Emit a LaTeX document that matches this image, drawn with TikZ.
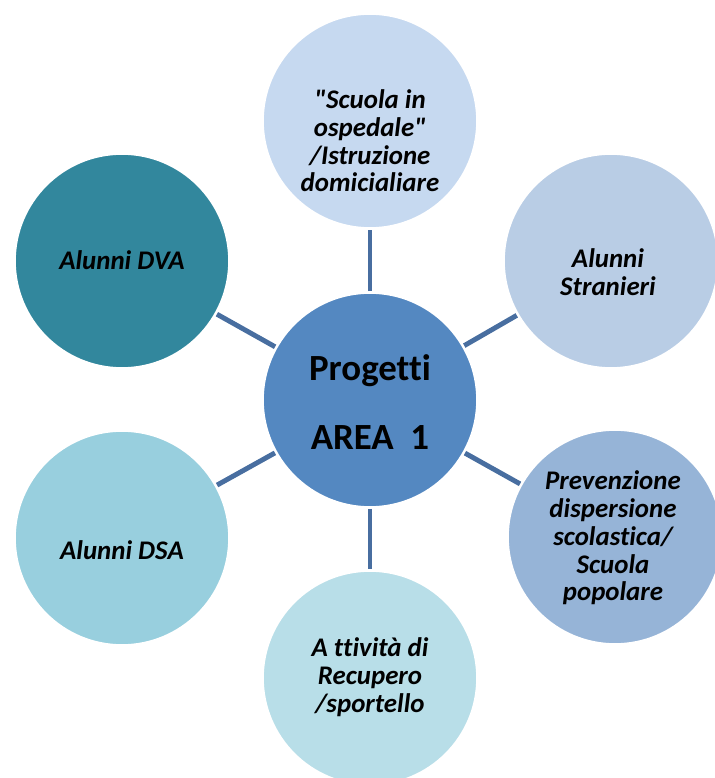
\documentclass[tikz,border=0pt]{standalone}
\usepackage{fontspec}
\newfontfamily\carlito{Carlito}[Ligatures=NoCommon]
\definecolor{centroblue}{RGB}{84,136,193}
\definecolor{scuolablue}{RGB}{198,217,240}
\definecolor{stranieriblue}{RGB}{185,205,229}
\definecolor{prevenzioneblue}{RGB}{150,180,215}
\definecolor{attivitablue}{RGB}{184,222,232}
\definecolor{dsablue}{RGB}{152,207,222}
\definecolor{dvateal}{RGB}{50,135,157}
\definecolor{linkblue}{RGB}{72,110,160}
\begin{document}
\begin{tikzpicture}[
	bubble/.style={circle,draw=white,line width=1.5pt,minimum size=4.3cm,inner sep=0pt},
	voce/.style={align=center,font=\carlito\fontsize{15.3}{15.8}\selectfont\bfseries\itshape},
	link/.style={line width=2.8pt,color=linkblue}]
	
	\useasboundingbox (0,0) rectangle (14.3,15.56);
	\clip (0,0) rectangle (14.3,15.56);
	
	%circles
	\node[bubble,fill=centroblue] (progetti) at (7.40,7.56) {};
	\node[bubble,fill=scuolablue] (scuola) at (7.40,13.14) {};
	\node[bubble,fill=stranieriblue] (stranieri) at (12.22,10.34) {};
	\node[bubble,fill=prevenzioneblue] (prevenzione) at (12.30,4.82) {};
	\node[bubble,fill=attivitablue] (attivita) at (7.40,2.00) {};
	\node[bubble,fill=dsablue] (dsa) at (2.44,4.80) {};
	\node[bubble,fill=dvateal] (dva) at (2.44,10.34) {};
	
	%links
	\draw[link] (progetti) -- (scuola);
	\draw[link] (progetti) -- (stranieri);
	\draw[link] (progetti) -- (prevenzione);
	\draw[link] (progetti) -- (attivita);
	\draw[link] (progetti) -- (dsa);
	\draw[link] (progetti) -- (dva);
	
	%texts
	\node[align=center,font=\carlito\fontsize{21}{24}\selectfont\bfseries] (t-progetti) at (7.40,7.52) {Progetti\\[0.55cm]AREA~~1};
	\node[voce] (t-scuola) at (7.40,12.74) {"Scuola in\\ospedale"\\/Istruzione\\domicialiare};
	\node[voce] (t-stranieri) at (12.16,10.12) {Alunni\\Stranieri};
	\node[voce] (t-prevenzione) at (12.26,4.80) {Prevenzione\\dispersione\\scolastica/\\Scuola\\popolare};
	\node[voce] (t-attivita) at (7.40,2.02) {A ttività di\\Recupero\\/sportello};
	\node[voce] (t-dsa) at (2.44,4.56) {Alunni DSA};
	\node[voce] (t-dva) at (2.44,10.36) {Alunni DVA};
	
\end{tikzpicture}
\end{document}
